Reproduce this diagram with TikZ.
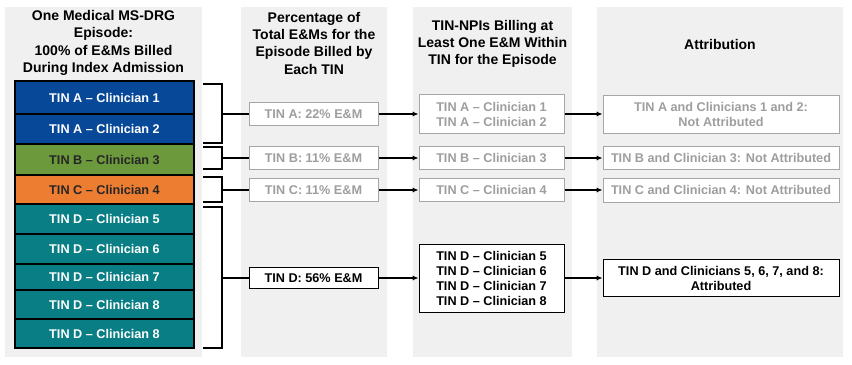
\documentclass[tikz,border=0pt]{standalone}
\usepackage{fontspec}
\setmainfont{Liberation Sans}
\usetikzlibrary{arrows.meta}
\definecolor{panelgray}{RGB}{240,240,240}
\definecolor{tinblue}{RGB}{7,72,153}
\definecolor{tingreen}{RGB}{107,153,59}
\definecolor{tinorange}{RGB}{237,125,49}
\definecolor{tinteal}{RGB}{9,126,132}
\definecolor{boxgray}{RGB}{166,166,166}
\definecolor{txtgray}{RGB}{158,158,158}
\tikzset{
  head/.style={align=center,inner sep=0.75pt,font=\fontsize{10.5}{13}\selectfont\bfseries},
  clinbox/.style={draw=black,line width=1.5pt,minimum width=134.25pt,inner sep=0pt,font=\fontsize{9.5}{11.5}\selectfont\bfseries},
  greybox/.style={draw=boxgray,fill=white,line width=0.75pt,text=txtgray,align=center,inner sep=0pt,font=\fontsize{9.5}{11.25}\selectfont\bfseries},
  blackbox/.style={draw=black,fill=white,line width=0.75pt,text=black,align=center,inner sep=0pt,font=\fontsize{9.5}{11.25}\selectfont\bfseries},
  bracket/.style={line width=1.5pt},
  conn/.style={line width=1.2pt,-{Latex[length=4.5pt,width=4pt]}}
}
\begin{document}
\begin{tikzpicture}[x=0.75pt,y=0.75pt,yscale=-1,xscale=1]
\useasboundingbox (0,0) rectangle (852,364);

%Shape: Panels
\fill[panelgray] (5,7) rectangle (202,357);
\fill[panelgray] (241,7) rectangle (387,357);
\fill[panelgray] (413,7) rectangle (572,357);
\fill[panelgray] (597,7) rectangle (843,357);

% Text Node
\node[head] (hEpisode) at (103.5,43) {One Medical MS-DRG\\Episode:\\100\% of E\&Ms Billed\\During Index Admission};
% Text Node
\node[head] (hShare) at (314,43) {Percentage of\\Total E\&Ms for the\\Episode Billed by\\Each TIN};
% Text Node
\node[head] (hBilling) at (492.5,44) {TIN-NPIs Billing at\\Least One E\&M Within\\TIN for the Episode};
% Text Node
\node[head] (hAttrib) at (720,44) {Attribution};

%Shape: Clinician boxes
\node[clinbox,fill=tinblue,text=white,minimum height=24.75pt] (c1) at (104.5,97.5) {TIN A – Clinician 1};
\node[clinbox,fill=tinblue,text=white,minimum height=22.5pt] (c2) at (104.5,129) {TIN A – Clinician 2};
\node[clinbox,fill=tingreen,text=black!85,minimum height=23.25pt] (c3) at (104.5,159.5) {TIN B – Clinician 3};
\node[clinbox,fill=tinorange,text=black!85,minimum height=21.75pt] (c4) at (104.5,189.5) {TIN C – Clinician 4};
\node[clinbox,fill=tinteal,text=white,minimum height=22.5pt] (c5) at (104.5,219) {TIN D – Clinician 5};
\node[clinbox,fill=tinteal,text=white,minimum height=22.5pt] (c6) at (104.5,249) {TIN D – Clinician 6};
\node[clinbox,fill=tinteal,text=white,minimum height=19.5pt] (c7) at (104.5,277) {TIN D – Clinician 7};
\node[clinbox,fill=tinteal,text=white,minimum height=21.75pt] (c8) at (104.5,304.5) {TIN D – Clinician 8};
\node[clinbox,fill=tinteal,text=white,minimum height=21.75pt] (c9) at (104.5,333.5) {TIN D – Clinician 8};

%Shape: Percentage boxes
\node[greybox,minimum width=96.75pt,minimum height=17.25pt] (pA) at (313.5,114) {TIN A: 22\% E\&M};
\node[greybox,minimum width=96.75pt,minimum height=17.25pt] (pB) at (313.5,158) {TIN B: 11\% E\&M};
\node[greybox,minimum width=96.75pt,minimum height=17.25pt] (pC) at (313.5,190) {TIN C: 11\% E\&M};
\node[blackbox,minimum width=96.75pt,minimum height=15.75pt] (pD) at (313.5,278) {TIN D: 56\% E\&M};

%Shape: Billing boxes
\node[greybox,minimum width=108.75pt,minimum height=29.25pt] (nA) at (491.5,114) {TIN A – Clinician 1\\TIN A – Clinician 2};
\node[greybox,minimum width=108.75pt,minimum height=17.25pt] (nB) at (491.5,158) {TIN B – Clinician 3};
\node[greybox,minimum width=108.75pt,minimum height=17.25pt] (nC) at (491.5,190) {TIN C – Clinician 4};
\node[blackbox,minimum width=108.75pt,minimum height=51pt] (nD) at (491.5,278) {TIN D – Clinician 5\\TIN D – Clinician 6\\TIN D – Clinician 7\\TIN D – Clinician 8};

%Shape: Attribution boxes
\node[greybox,minimum width=177pt,minimum height=28.5pt] (aA) at (721,114) {TIN A and Clinicians 1 and 2:\\Not Attributed};
\node[greybox,minimum width=177pt,minimum height=17.25pt] (aB) at (721,158) {TIN B and Clinician 3: Not Attributed};
\node[greybox,minimum width=177pt,minimum height=18pt] (aC) at (721,190) {TIN C and Clinician 4: Not Attributed};
\node[blackbox,minimum width=177pt,minimum height=27.75pt] (aD) at (721,278) {TIN D and Clinicians 5, 6, 7, and 8:\\Attributed};

%Straight Lines: brackets
\coordinate (bA) at (222,114);
\coordinate (bB) at (222,158);
\coordinate (bC) at (222,190);
\coordinate (bD) at (222,278);
\draw[bracket] (203,84) -- (222,84) -- (222,143) -- (203,143);
\draw[bracket] (203,147) -- (222,147) -- (222,169) -- (203,169);
\draw[bracket] (203,177) -- (222,177) -- (222,202) -- (203,202);
\draw[bracket] (203,207) -- (222,207) -- (222,348) -- (203,348);
\draw[bracket] (bA) -- (pA.west);
\draw[bracket] (bB) -- (pB.west);
\draw[bracket] (bC) -- (pC.west);
\draw[bracket] (bD) -- (pD.west);

%Straight Lines: arrows
\draw[conn] (pA.east) -- (nA.west);
\draw[conn] (pB.east) -- (nB.west);
\draw[conn] (pC.east) -- (nC.west);
\draw[conn] (pD.east) -- (nD.west);
\draw[conn] (nA.east) -- (aA.west);
\draw[conn] (nB.east) -- (aB.west);
\draw[conn] (nC.east) -- (aC.west);
\draw[conn] (nD.east) -- (aD.west);
\end{tikzpicture}
\end{document}
